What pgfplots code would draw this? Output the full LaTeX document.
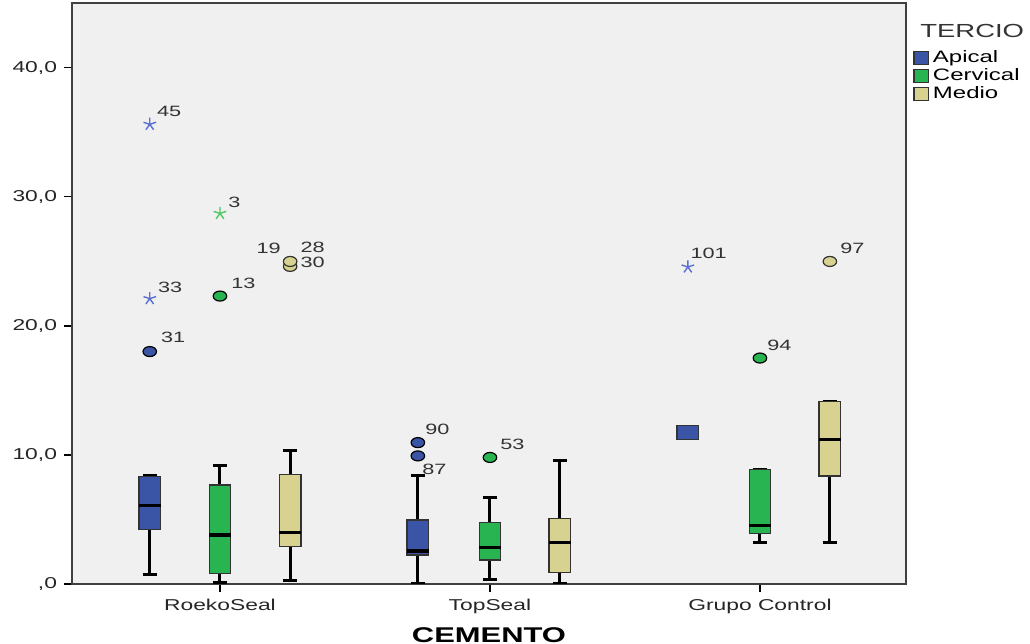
\documentclass[border=0pt]{standalone}
\usepackage{fontspec}
\setmainfont{Liberation Sans}[FakeStretch=1.45]
\usepackage{pgfplots}
\pgfplotsset{compat=1.18}
\usepgfplotslibrary{statistics}
\definecolor{apical}{RGB}{58,84,166}
\definecolor{cervical}{RGB}{40,180,80}
\definecolor{medio}{RGB}{216,210,145}
\definecolor{bggray}{RGB}{240,240,240}
\definecolor{apicalstar}{RGB}{90,110,210}
\definecolor{cervicalstar}{RGB}{80,200,100}
\begin{document}
\begin{tikzpicture}
\begin{axis}[
  scale only axis, width=417bp, height=290.5bp,
  xmin=-0.548, xmax=2.541, ymin=0, ymax=45,
  axis background/.style={fill=bggray},
  axis line style={black!75, line width=1bp},
  xtick={0,1,2}, xticklabels={RoekoSeal,TopSeal,Grupo Control},
  ytick={0,10,20,30,40}, yticklabels={{,0},{10,0},{20,0},{30,0},{40,0}},
  tick pos=left, tick align=outside, major tick length=4bp,
  tick style={black, line width=0.8bp},
  ticklabel style={font=\fontsize{7.9}{9}\selectfont, text=black!85},
  xlabel={CEMENTO},
  xlabel style={font=\fontsize{10.7}{12}\selectfont\bfseries, yshift=0bp},
  boxplot/draw direction=y,
  boxplot/every box/.style={draw=black!80, line width=0.6bp},
  boxplot/every whisker/.style={black, line width=1.5bp},
  boxplot/every median/.style={black, line width=1.6bp},
  boxplot/box extend=0.08, boxplot/whisker extend=0.05,
  legend style={at={(rel axis cs:1,1)}, anchor=north west, xshift=3.5bp, yshift=-21.5bp,
    draw=none, fill=none, font=\fontsize{8.3}{9}\selectfont, inner sep=0pt, row sep=-2.5bp},
  legend cell align=left,
  legend image code/.code={\draw[#1, draw=black!80, line width=0.6bp] (0bp,-3.3bp) rectangle (7.2bp,3.3bp);},
]
\addlegendimage{fill=apical}
\addlegendentry{Apical}
\addlegendimage{fill=cervical}
\addlegendentry{Cervical}
\addlegendimage{fill=medio}
\addlegendentry{Medio}

% RoekoSeal
\addplot[forget plot, fill=apical, boxplot prepared={draw position=-0.26, lower whisker=0.7, lower quartile=4.19, median=6.07, upper quartile=8.33, upper whisker=8.4}] coordinates {};
\addplot[forget plot, fill=cervical, boxplot prepared={draw position=0, lower whisker=0.1, lower quartile=0.83, median=3.8, upper quartile=7.67, upper whisker=9.15}] coordinates {};
\addplot[forget plot, fill=medio, boxplot prepared={draw position=0.26, lower whisker=0.3, lower quartile=2.9, median=3.98, upper quartile=8.45, upper whisker=10.3}] coordinates {};
% TopSeal
\addplot[forget plot, fill=apical, boxplot prepared={draw position=0.733, lower whisker=0.05, lower quartile=2.25, median=2.56, upper quartile=4.96, upper whisker=8.37}] coordinates {};
\addplot[forget plot, fill=cervical, boxplot prepared={draw position=1, lower whisker=0.31, lower quartile=1.86, median=2.82, upper quartile=4.78, upper whisker=6.72}] coordinates {};
\addplot[forget plot, fill=medio, boxplot prepared={draw position=1.259, lower whisker=0.05, lower quartile=0.9, median=3.2, upper quartile=5.09, upper whisker=9.56}] coordinates {};
% Grupo Control
\addplot[forget plot, fill=apical, boxplot/every median/.style={draw=black!80, line width=0.6bp},
  boxplot/every whisker/.style={draw=black!80, line width=0.6bp},
  boxplot prepared={draw position=1.733, lower whisker=11.16, lower quartile=11.16, median=11.16, upper quartile=12.3, upper whisker=12.3}] coordinates {};
\addplot[forget plot, fill=cervical, boxplot prepared={draw position=2, lower whisker=3.2, lower quartile=3.88, median=4.5, upper quartile=8.89, upper whisker=8.89}] coordinates {};
\addplot[forget plot, fill=medio, boxplot prepared={draw position=2.259, lower whisker=3.2, lower quartile=8.37, median=11.16, upper quartile=14.13, upper whisker=14.13}] coordinates {};

% outliers (circles)
\addplot[forget plot, only marks, mark=*, mark size=2.5bp, mark options={xscale=1.35, fill=apical, draw=black, line width=0.6bp}] coordinates {(-0.26,18.0) (0.733,10.95) (0.733,9.92)};
\addplot[forget plot, only marks, mark=*, mark size=2.5bp, mark options={xscale=1.35, fill=cervical, draw=black, line width=0.6bp}] coordinates {(0,22.3) (1,9.8) (2,17.5)};
\addplot[forget plot, only marks, mark=*, mark size=2.5bp, mark options={xscale=1.35, fill=medio, draw=black!80, line width=0.6bp}] coordinates {(0.26,24.6) (0.26,24.98) (2.259,24.98)};
% extremes (stars)
\addplot[forget plot, only marks, mark=star, mark size=3.3bp, mark options={draw=apicalstar, line width=0.7bp}] coordinates {(-0.26,35.6) (-0.26,22.1) (1.733,24.55)};
\addplot[forget plot, only marks, mark=star, mark size=3.3bp, mark options={draw=cervicalstar, line width=0.7bp}] coordinates {(0,28.7)};

% labels
\addplot[forget plot, draw=none, mark=none, nodes near coords, point meta=explicit symbolic,
  visualization depends on={value \thisrow{dx}\as\dx},
  visualization depends on={value \thisrow{dy}\as\dy},
  every node near coord/.style={anchor=base west, xshift=\dx bp, yshift=\dy bp, inner sep=0pt,
    font=\fontsize{7.5}{9}\selectfont, text=black!80}]
  table[meta=lab]{
x y lab dx dy
-0.26 35.6 45 3.5 4
-0.26 22.1 33 4 3.3
-0.26 18.0 31 5.5 4.5
0 28.7 3 4 3
0 22.3 13 5.5 4
0.26 24.98 28 5 4.5
0.26 24.6 30 5 -0.8
0.733 10.95 90 3.5 4.3
0.733 9.92 87 2 -9.5
1 9.8 53 5 4
1.733 24.55 101 1.2 4.5
2 17.5 94 3.5 4
2.259 24.98 97 5 4
};
\addplot[forget plot, draw=none, mark=none, nodes near coords, point meta=explicit symbolic,
  every node near coord/.style={anchor=base east, xshift=-4.5bp, yshift=4bp, inner sep=0pt,
    font=\fontsize{7.5}{9}\selectfont, text=black!80}]
  table[meta=lab]{
x y lab
0.26 24.98 19
};
\end{axis}
\node[anchor=north west, font=\fontsize{9.5}{11}\selectfont, inner sep=0pt, text=black!80]
  at ([xshift=7bp, yshift=-10.5bp]current axis.north east) {TERCIO};
\pgfresetboundingbox
\path ([xshift=-36bp,yshift=-30bp]current axis.south west) rectangle ([xshift=62bp,yshift=1.5bp]current axis.north east);
\end{tikzpicture}
\end{document}
